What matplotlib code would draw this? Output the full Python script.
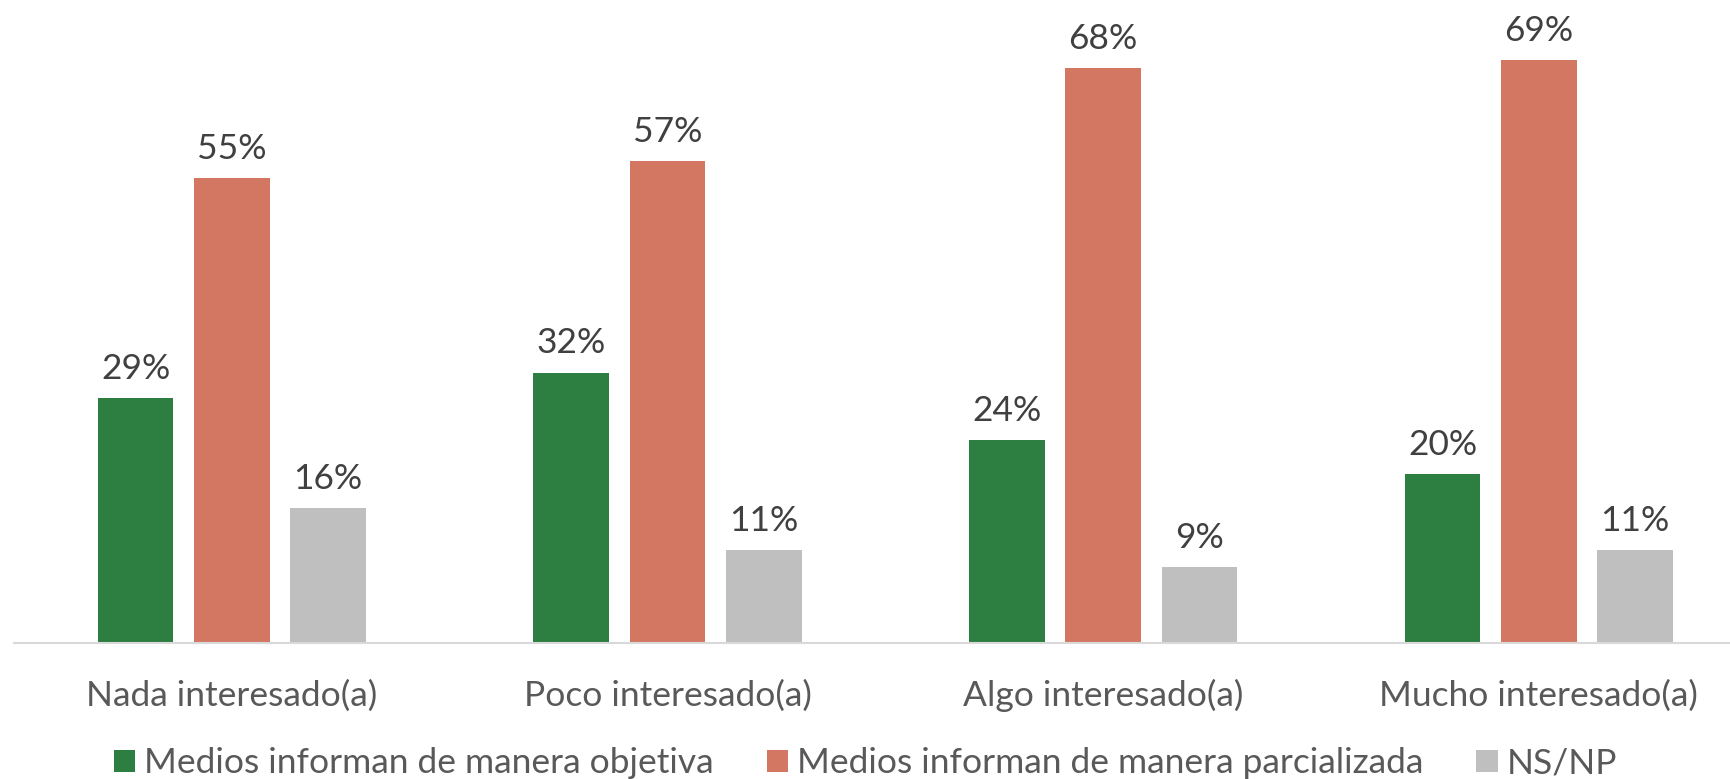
import numpy as np
import matplotlib
matplotlib.use("Agg")
from matplotlib import pyplot as plt

categories = ["Nada interesado(a)", "Poco interesado(a)", "Algo interesado(a)", "Mucho interesado(a)"]
series_names = ["Medios informan de manera objetiva", "Medios informan de manera parcializada", "NS/NP"]
objetiva = [29, 32, 24, 20]
parcializada = [55, 57, 68, 69]
nsnp = [16, 11, 9, 11]
colors = ["#2C7E41", "#D47762", "#BFBFBF"]

plt.rcParams['font.family'] = ['Lato', 'DejaVu Sans']
fs = 25.5

fig = plt.figure(figsize=(17.31, 7.79), dpi=100)
# axes from x=14px to right edge, baseline at y=643px
ax = fig.add_axes([14 / 1731, 136 / 779, 1 - 14 / 1731, 643 / 779])

x = np.arange(len(categories))
width = 0.174
step = 0.221
for i, (vals, name) in enumerate(zip([objetiva, parcializada, nsnp], series_names)):
	pos = x + (i - 1) * step
	bars = ax.bar(pos, vals, width, color=colors[i], label=name)
	for b, v in zip(bars, vals):
		ax.annotate(f"{v}%", (b.get_x() + b.get_width() / 2, v), xytext=(0, 21),
					textcoords="offset points", ha="center", va="center",
					fontsize=fs, color="#404040")

ax.set_xlim(-0.5, 3.441)
ax.set_ylim(0, 76.1)
ax.set_xticks(x)
ax.set_xticklabels(categories, fontsize=fs, color="#595959")
ax.tick_params(axis="x", length=0, pad=26)
ax.set_yticks([])
for s in ["top", "right", "left"]:
	ax.spines[s].set_visible(False)
ax.spines["bottom"].set_color("#D9D9D9")
ax.spines["bottom"].set_linewidth(1.5)

fig.legend(loc="center", bbox_to_anchor=(0.5, 0.02), ncol=3, frameon=False, fontsize=fs,
		   handlelength=0.6, handleheight=0.6, handletextpad=0.25, columnspacing=1.5,
		   labelcolor="#595959")

plt.savefig("out.png", dpi=100)
